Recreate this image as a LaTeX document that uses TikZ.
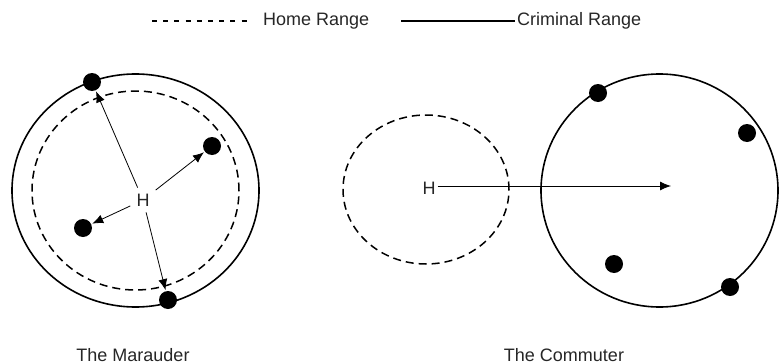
\documentclass[tikz,border=0pt]{standalone}
\usepackage{fontspec}
\setmainfont{Liberation Sans}
\usetikzlibrary{positioning,arrows.meta}

\tikzset{
  crime/.style={circle, fill=black, inner sep=0pt, minimum size=18pt},
  homerange/.style={line width=1.5pt, dash pattern=on 8pt off 5pt},
  crimrange/.style={line width=1.6pt},
  trip/.style={line width=0.8pt, -{Latex[length=11pt,width=9pt]}, shorten >=1pt},
  lbl/.style={font=\fontsize{18}{21}\selectfont, text=black!85, inner sep=2pt}
}

\begin{document}
\begin{tikzpicture}[x=1pt, y=-1pt]
\useasboundingbox (0,0) rectangle (779,364);

% legend
\node[lbl, anchor=west] (home) at (261,21) {Home Range};
\node[lbl, anchor=west] (crim) at (515,21) {Criminal Range};
\coordinate (homeL) at (152,21);
\coordinate (crimL) at (401,21);
\draw[line width=1.1pt, dash pattern=on 5pt off 6.2pt] (homeL) -- ([xshift=-14pt]home.west);
\draw[line width=1.1pt] (crimL) -- (crim.west);

% the marauder
\draw[crimrange] (135.5,190.5) ellipse (123.5pt and 116.5pt);
\draw[homerange] (135.5,190.5) ellipse (103.5pt and 99.5pt);
\node[lbl, inner sep=6pt] (H1) at (143,200) {H};
\node[crime] (m1) at (92,82) {};
\node[crime] (m2) at (212,146) {};
\node[crime] (m3) at (83,228) {};
\node[crime] (m4) at (168,300) {};
\draw[trip] (H1) -- (m1);
\draw[trip] (H1) -- (m2);
\draw[trip] (H1) -- (m3);
\draw[trip] (H1) -- (m4);
\node[lbl] (maraud) at (133,355) {The Marauder};

% the commuter
\draw[homerange] (426,189.5) ellipse (83pt and 74.5pt);
\draw[crimrange] (659.5,190.5) ellipse (118.5pt and 116.5pt);
\node[lbl] (H2) at (429,188) {H};
\coordinate (target) at (672,186);
\draw[trip] (H2.east |- target) -- (target);
\node[crime] (c1) at (598,93) {};
\node[crime] (c2) at (747,133) {};
\node[crime] (c3) at (614,264) {};
\node[crime] (c4) at (730,287) {};
\node[lbl] (commut) at (564,355) {The Commuter};
\end{tikzpicture}
\end{document}
